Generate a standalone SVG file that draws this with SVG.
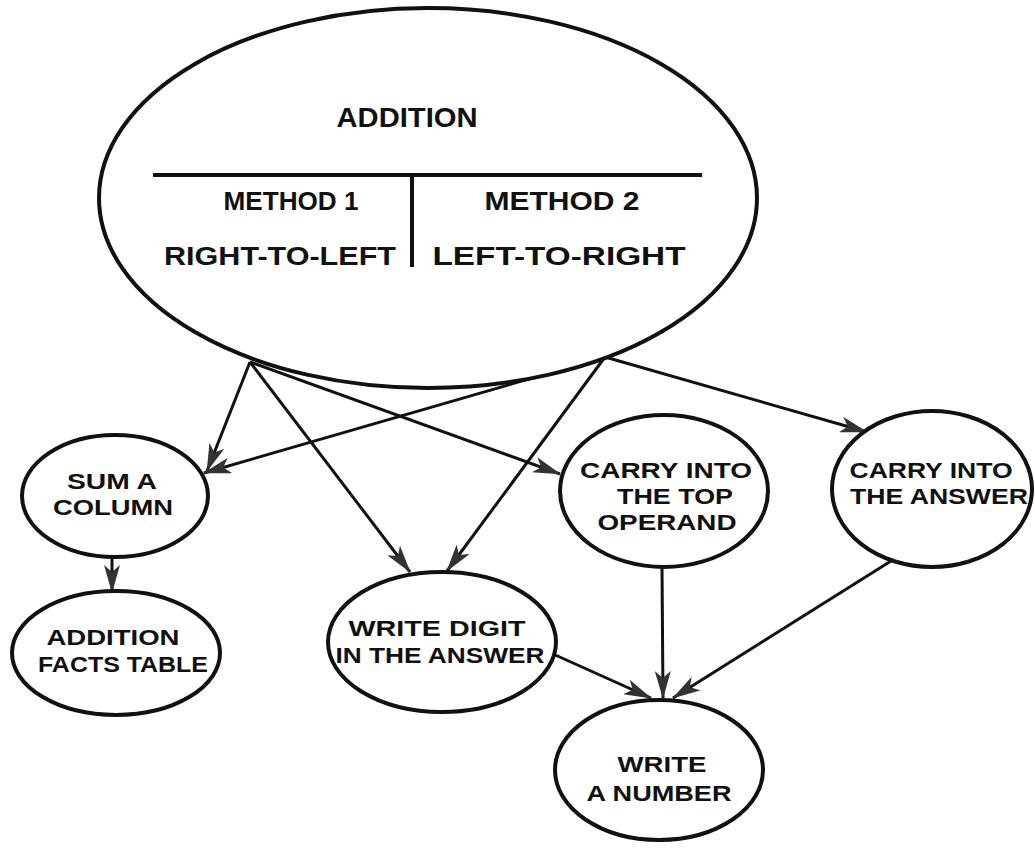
<svg xmlns="http://www.w3.org/2000/svg" width="1035" height="855" viewBox="0 0 1035 855">
<style>
.node{fill:#fff;stroke:#111;stroke-width:4}
.conn{stroke:#111;stroke-width:3;fill:none;marker-end:url(#arr)}
.t{font-family:"Liberation Sans",Arial,sans-serif;font-weight:bold;fill:#111;text-anchor:middle}
.big{font-size:27px}
.mid{font-size:25px}
.sm{font-size:22px}
</style>
<defs>
<marker id="arr" markerUnits="userSpaceOnUse" markerWidth="28" markerHeight="16" refX="27" refY="8" orient="auto" viewBox="0 0 28 16">
<path d="M0,0 L28,8 L0,16 L7,8 z" fill="#333"/>
</marker>
</defs>
<rect width="1035" height="855" fill="#fff"/>
<g id="connectors">
<line class="conn" x1="250" y1="362" x2="207" y2="471"/>
<line class="conn" x1="250" y1="362" x2="410" y2="572"/>
<line class="conn" x1="250" y1="362" x2="560" y2="474"/>
<line class="conn" x1="605" y1="357" x2="204" y2="473"/>
<line class="conn" x1="605" y1="357" x2="447" y2="571"/>
<line class="conn" x1="605" y1="357" x2="867" y2="432"/>
<line class="conn" x1="112" y1="558" x2="112" y2="592"/>
<line class="conn" x1="662" y1="567" x2="663" y2="698"/>
<line class="conn" x1="553" y1="654" x2="651" y2="698"/>
<line class="conn" x1="891" y1="561" x2="673" y2="698"/>
</g>
<g id="addition">
<ellipse class="node" cx="428" cy="198" rx="329" ry="190"/>
<line x1="153" y1="175" x2="702" y2="175" stroke="#111" stroke-width="4"/>
<line x1="412" y1="175" x2="412" y2="267" stroke="#111" stroke-width="4"/>
<text class="t big" x="407" y="127" textLength="141" lengthAdjust="spacingAndGlyphs">ADDITION</text>
<text class="t mid" x="291" y="210" textLength="135" lengthAdjust="spacingAndGlyphs">METHOD 1</text>
<text class="t mid" x="562" y="210" textLength="155" lengthAdjust="spacingAndGlyphs">METHOD 2</text>
<text class="t mid" x="280" y="265" textLength="232" lengthAdjust="spacingAndGlyphs">RIGHT-TO-LEFT</text>
<text class="t mid" x="559" y="265" textLength="253" lengthAdjust="spacingAndGlyphs">LEFT-TO-RIGHT</text>
</g>
<g id="sum-a-column">
<ellipse class="node" cx="115" cy="496" rx="93" ry="61"/>
<text class="t sm" x="112" y="489" textLength="90" lengthAdjust="spacingAndGlyphs">SUM A</text>
<text class="t sm" x="113" y="515" textLength="120" lengthAdjust="spacingAndGlyphs">COLUMN</text>
</g>
<g id="addition-facts-table">
<ellipse class="node" cx="116" cy="653" rx="104" ry="62"/>
<text class="t sm" x="113" y="645" textLength="133" lengthAdjust="spacingAndGlyphs">ADDITION</text>
<text class="t sm" x="123" y="672" textLength="170" lengthAdjust="spacingAndGlyphs">FACTS TABLE</text>
</g>
<g id="write-digit">
<ellipse class="node" cx="442" cy="642" rx="114" ry="70"/>
<text class="t sm" x="437" y="636" textLength="177" lengthAdjust="spacingAndGlyphs">WRITE DIGIT</text>
<text class="t sm" x="440" y="663" textLength="209" lengthAdjust="spacingAndGlyphs">IN THE ANSWER</text>
</g>
<g id="carry-top">
<ellipse class="node" cx="664" cy="491" rx="104" ry="76"/>
<text class="t sm" x="666" y="478" textLength="172" lengthAdjust="spacingAndGlyphs">CARRY INTO</text>
<text class="t sm" x="675" y="504" textLength="116" lengthAdjust="spacingAndGlyphs">THE TOP</text>
<text class="t sm" x="667" y="530" textLength="139" lengthAdjust="spacingAndGlyphs">OPERAND</text>
</g>
<g id="carry-answer">
<ellipse class="node" cx="932" cy="489" rx="100" ry="78"/>
<text class="t sm" x="931" y="478" textLength="163" lengthAdjust="spacingAndGlyphs">CARRY INTO</text>
<text class="t sm" x="939" y="504" textLength="178" lengthAdjust="spacingAndGlyphs">THE ANSWER</text>
</g>
<g id="write-a-number">
<ellipse class="node" cx="659" cy="770" rx="104" ry="70"/>
<text class="t sm" x="662" y="772" textLength="89" lengthAdjust="spacingAndGlyphs">WRITE</text>
<text class="t sm" x="659" y="801" textLength="145" lengthAdjust="spacingAndGlyphs">A NUMBER</text>
</g>
</svg>
